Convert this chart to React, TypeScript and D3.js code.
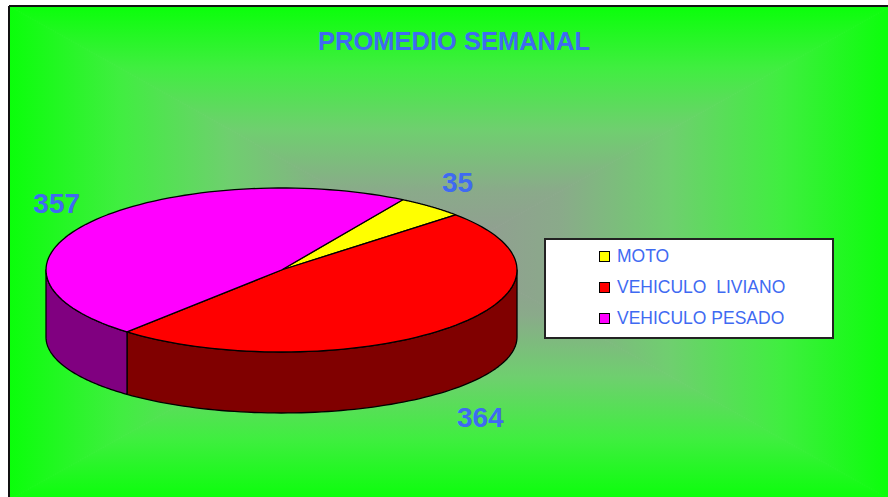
import React from "react";
import * as d3 from "d3";

const title = "PROMEDIO SEMANAL";
const categories = ["MOTO", "VEHICULO  LIVIANO", "VEHICULO PESADO"];
const values = [35, 364, 357];
const topColors = ["#ffff00", "#ff0000", "#ff00ff"];
const sideColors = ["#808000", "#800000", "#800080"];

const W = 888;
const H = 497;

export default function App() {
  // plot frame
  const fx0 = 9, fy0 = 6, fx1 = 891, fy1 = 500;
  const gcx = (fx0 + fx1) / 2, gcy = (fy0 + fy1) / 2;

  // pie geometry
  const cx = 281.5, cy = 270, rx = 235.5, ry = 82, ry2 = 76, depth = 67;
  const start = (31 * Math.PI) / 180;
  const pie = d3.pie<number>().sort(null).startAngle(start).endAngle(start + 2 * Math.PI);
  const arcs = pie(values);

  const topPt = (a: number) => [cx + rx * Math.sin(a), cy - ry * Math.cos(a)];
  const botPt = (a: number) => [cx + rx * Math.sin(a), cy + depth - ry2 * Math.cos(a)];
  const sample = (a0: number, a1: number, n = 80) => d3.range(n + 1).map((i) => a0 + ((a1 - a0) * i) / n);

  const line = d3.line();

  const topPaths = arcs.map((d) => {
    const pts = [[cx, cy], ...sample(d.startAngle, d.endAngle).map(topPt)] as [number, number][];
    return line(pts) + "Z";
  });

  const sidePaths: { path: string; i: number }[] = [];
  arcs.forEach((d, i) => {
    for (const shift of [-2 * Math.PI, 0, 2 * Math.PI]) {
      const lo = Math.max(d.startAngle, Math.PI / 2 + shift);
      const hi = Math.min(d.endAngle, (3 * Math.PI) / 2 + shift);
      if (hi > lo) {
        const as = sample(lo, hi);
        const pts = [...as.map(topPt), ...as.slice().reverse().map(botPt)] as [number, number][];
        sidePaths.push({ path: line(pts) + "Z", i });
      }
    }
  });

  const kx = 1.18, ky = 1.39;
  const labels = arcs.map((d) => {
    const m = (d.startAngle + d.endAngle) / 2;
    const x = cx + rx * kx * Math.sin(m);
    const y = cy - ry * ky * Math.cos(m) + (Math.cos(m) < 0 ? depth : 0);
    return { x, y, v: d.data };
  });

  const stops = [
    [0, "#0aff0a"],
    [0.25, "#40ee40"],
    [0.5, "#6fcf6f"],
    [0.75, "#8aaa8a"],
    [1, "#949a94"],
  ];
  const grads = [
    { id: "gt", x1: gcx, y1: fy0, x2: gcx, y2: gcy, pts: [[fx0, fy0], [fx1, fy0], [gcx, gcy]] },
    { id: "gb", x1: gcx, y1: fy1, x2: gcx, y2: gcy, pts: [[fx0, fy1], [fx1, fy1], [gcx, gcy]] },
    { id: "gl", x1: fx0, y1: gcy, x2: gcx, y2: gcy, pts: [[fx0, fy0], [fx0, fy1], [gcx, gcy]] },
    { id: "gr", x1: fx1, y1: gcy, x2: gcx, y2: gcy, pts: [[fx1, fy0], [fx1, fy1], [gcx, gcy]] },
  ];

  const blue = "#3f6af2";
  const font = "'Liberation Sans', Arial, sans-serif";

  return (
    <svg width={W} height={H} style={{ position: "absolute", left: 0, top: 0, background: "#fff" }}>
      <defs>
        {grads.map((g) => (
          <linearGradient key={g.id} id={g.id} gradientUnits="userSpaceOnUse" x1={g.x1} y1={g.y1} x2={g.x2} y2={g.y2}>
            {stops.map((s, i) => (
              <stop key={i} offset={s[0] as number} stopColor={s[1] as string} />
            ))}
          </linearGradient>
        ))}
      </defs>
      {grads.map((g) => (
        <path
          key={g.id}
          d={line(g.pts as [number, number][]) + "Z"}
          fill={`url(#${g.id})`}
          stroke={`url(#${g.id})`}
          strokeWidth={1}
        />
      ))}
      <line x1={fx0} y1={fy0} x2={W} y2={fy0} stroke="#111" strokeWidth={2} />
      <line x1={fx0} y1={fy0} x2={fx0} y2={H} stroke="#111" strokeWidth={2} />

      <text x={454} y={50} textAnchor="middle" fontFamily={font} fontWeight="bold" fontSize={25.5} fill={blue}>
        {title}
      </text>

      {sidePaths.map((s, k) => (
        <path key={"s" + k} d={s.path} fill={sideColors[s.i]} stroke="#000" strokeWidth={1.3} strokeLinejoin="round" />
      ))}
      {topPaths.map((p, i) => (
        <path key={"t" + i} d={p} fill={topColors[i]} stroke="#000" strokeWidth={1.3} strokeLinejoin="round" />
      ))}

      {labels.map((l, i) => (
        <text key={"l" + i} x={l.x} y={l.y + 10} textAnchor="middle" fontFamily={font} fontWeight="bold" fontSize={28} fill={blue}>
          {l.v}
        </text>
      ))}

      <rect x={545} y={239} width={288} height={99} fill="#fff" stroke="#222" strokeWidth={2} />
      {categories.map((c, i) => (
        <g key={c}>
          <rect x={599.5} y={251.5 + i * 31} width={10} height={10} fill={topColors[i]} stroke="#000" strokeWidth={1} />
          <text x={617} y={262 + i * 31} fontFamily={font} fontSize={17.5} fill={blue} style={{ whiteSpace: "pre" }}>
            {c}
          </text>
        </g>
      ))}
    </svg>
  );
}
